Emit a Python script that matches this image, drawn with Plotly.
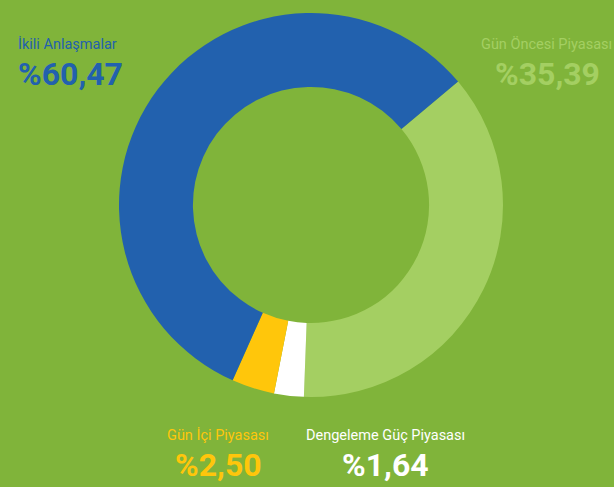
import plotly.graph_objects as go

# slice order (clockwise, starting at the top-right boundary)
categories = ["Gün Öncesi Piyasası", "Dengeleme Güç Piyasası", "Gün İçi Piyasası", "İkili Anlaşmalar"]
slice_values = [36.7, 2.5, 3.6, 57.2]          # share of the ring as drawn
label_values = ["%35,39", "%1,64", "%2,50", "%60,47"]  # printed percentages
colors = ["#A4CF62", "#FFFFFF", "#FFC60B", "#2261AE"]

BG = "#80B43A"
W, H = 614, 487
cx, cy, R = 311, 205, 192

fig = go.Figure(go.Pie(
    labels=categories,
    values=slice_values,
    sort=False,
    direction="clockwise",
    rotation=50,
    hole=0.615,
    marker=dict(colors=colors, line=dict(width=0)),
    textinfo="none",
    hoverinfo="label+value",
    domain=dict(x=[(cx - R) / W, (cx + R) / W],
                y=[(H - cy - R) / H, (H - cy + R) / H]),
    showlegend=False,
))

FONT = "Roboto, sans-serif"

def add_label(x_name, x_val, y, name, value, color, anchor):
    fig.add_annotation(x=x_name / W, y=1 - y / H, xref="paper", yref="paper",
                       text=name, showarrow=False, xanchor=anchor, yanchor="middle",
                       font=dict(family=FONT, size=14.5, color=color))
    fig.add_annotation(x=x_val / W, y=1 - (y + 30) / H, xref="paper", yref="paper",
                       text="<b>" + value + "</b>", showarrow=False, xanchor=anchor, yanchor="middle",
                       font=dict(family=FONT, size=32, color=color))

add_label(16, 16, 44, categories[3], label_values[3], colors[3], "left")
add_label(614, 602, 44, categories[0], label_values[0], colors[0], "right")
add_label(218, 218, 435, categories[2], label_values[2], colors[2], "center")
add_label(386, 386, 435, categories[1], label_values[1], colors[1], "center")

fig.update_layout(width=W, height=H, margin=dict(l=0, r=0, t=0, b=0),
                  paper_bgcolor=BG, plot_bgcolor=BG)
fig.write_html("out.html", config={"displayModeBar": False},
               post_script="document.body.style.margin='0';document.body.style.background='%s';" % BG)
